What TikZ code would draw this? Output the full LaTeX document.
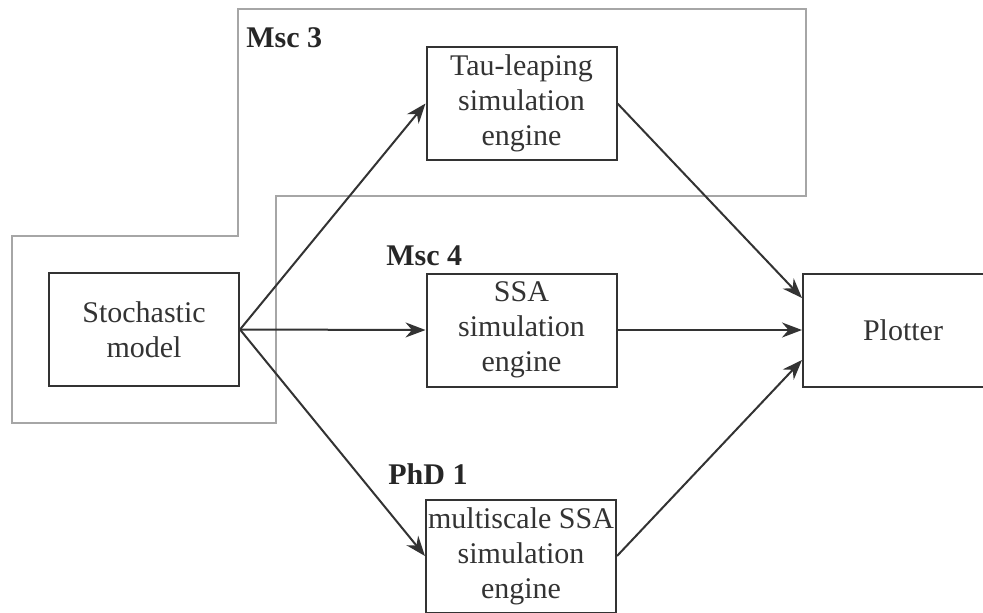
\documentclass[tikz,border=0pt]{standalone}
\usepackage{fontspec}
\setmainfont{Liberation Serif}
\usetikzlibrary{arrows.meta}
\begin{document}
\begin{tikzpicture}[x=0.5pt,y=-0.5pt,
	box/.style={draw=black!80, line width=1pt, minimum width=95pt, minimum height=56.5pt, align=center, inner sep=0pt, text=black!80, font=\fontsize{15}{17.5}\selectfont},
	lbl/.style={anchor=west, inner sep=0pt, text=black!85, font=\fontsize{15}{17}\selectfont\bfseries},
	link/.style={-{Stealth[length=10pt,width=7.5pt]}, line width=1pt, draw=black!80}]
	\useasboundingbox (0,0) rectangle (983,612);
	\clip (0,0) rectangle (983,612);
	
	% group outline
	\draw[black!35, line width=1.4pt] (238,9) -- (806,9) -- (806,196) -- (276,196) -- (276,423) -- (12,423) -- (12,236) -- (238,236) -- cycle;
	
	\node[box] (model) at (144,329.5) {Stochastic\\model};
	\node[box] (tau) at (521.5,103.5) {Tau-leaping\\simulation\\engine};
	\node[box] (ssa) at (521.5,330) {SSA\\simulation\\engine};
	\node[box] (multi) at (521,556) {multiscale SSA\\simulation\\engine};
	\node[box, minimum width=100pt] (plotter) at (903,330) {Plotter};
	
	\node[lbl] (msc3) at (246,38) {Msc 3};
	\node[lbl] (msc4) at (386,256) {Msc 4};
	\node[lbl] (phd1) at (388,474) {PhD 1};
	
	\draw[link] (model.east) -- (tau.west);
	\draw[link] (model.east) -- (ssa.west);
	\draw[link] (model.east) -- (multi.west);
	\draw[link] (tau.east) -- ([yshift=16pt]plotter.west);
	\draw[link] (ssa.east) -- (plotter.west);
	\draw[link] (multi.east) -- ([yshift=-15pt]plotter.west);
\end{tikzpicture}
\end{document}
